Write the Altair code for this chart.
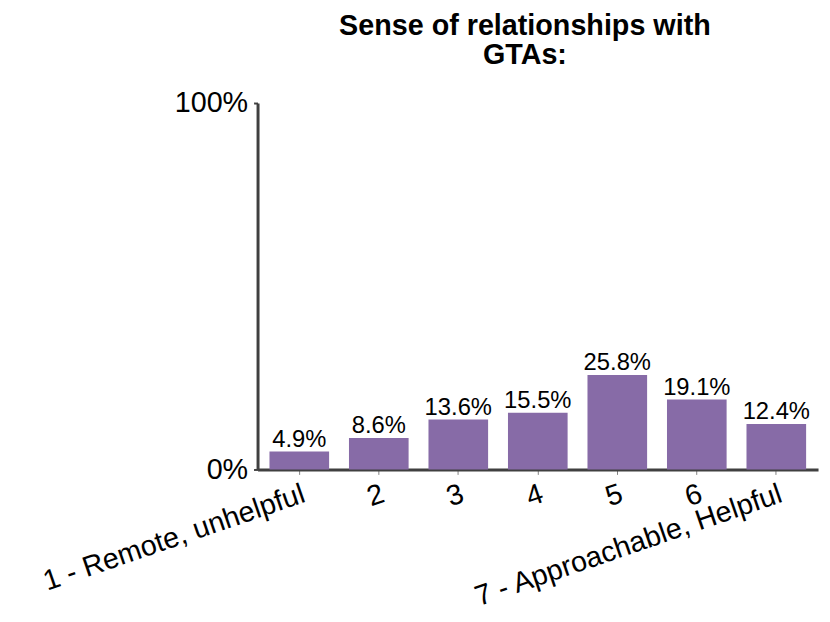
import altair as alt
import pandas as pd

categories = ["1 - Remote, unhelpful", "2", "3", "4", "5", "6", "7 - Approachable, Helpful"]
values = [0.049, 0.086, 0.136, 0.155, 0.258, 0.191, 0.124]
value_labels = ["4.9%", "8.6%", "13.6%", "15.5%", "25.8%", "19.1%", "12.4%"]

df = pd.DataFrame({"cat": categories, "val": values, "lab": value_labels})

FONT = "Liberation Sans"
AXIS = "#404040"
BAR = "#876BA7"

x = alt.X(
    "cat:N",
    sort=categories,
    title=None,
    scale=alt.Scale(paddingInner=0.25, paddingOuter=0.15),
    axis=alt.Axis(
        labelAngle=-19,
        labelAlign="right",
        labelBaseline="top",
        labelFontSize=29,
        labelFont=FONT,
        labelColor="#000000",
        labelPadding=5,
        labelLimit=500,
        tickSize=5,
        tickColor="#808080",
        tickWidth=1,
        domainColor=AXIS,
        domainWidth=3,
    ),
)

y = alt.Y(
    "val:Q",
    title=None,
    scale=alt.Scale(domain=[0, 1], nice=False),
    axis=alt.Axis(
        values=[0, 1],
        format=".0%",
        labelFontSize=29,
        labelFont=FONT,
        labelColor="#000000",
        labelPadding=6,
        tickSize=4,
        tickColor=AXIS,
        tickWidth=2,
        domainColor=AXIS,
        domainWidth=3,
        grid=False,
    ),
)

bars = alt.Chart(df).mark_bar(color=BAR).encode(x=x, y=y)

texts = alt.Chart(df).mark_text(
    baseline="alphabetic", dy=-5, fontSize=24, font=FONT, color="#000000"
).encode(x=alt.X("cat:N", sort=categories), y="val:Q", text="lab:N")

chart = (
    alt.layer(bars, texts)
    .properties(
        width=566,
        height=370,
        title=alt.TitleParams(
            text=["Sense of relationships with", "GTAs:"],
            font=FONT,
            fontSize=29,
            fontWeight="bold",
            color="#000000",
            lineHeight=30,
            anchor="middle",
            dx=-13,
            offset=19,
        ),
        autosize=alt.AutoSizeParams(type="none"),
        padding={"left": 252, "top": 93, "right": 4, "bottom": 143},
    )
    .configure_view(stroke=None)
)

chart.save("out.html", embed_options={"renderer": "svg", "actions": False})
